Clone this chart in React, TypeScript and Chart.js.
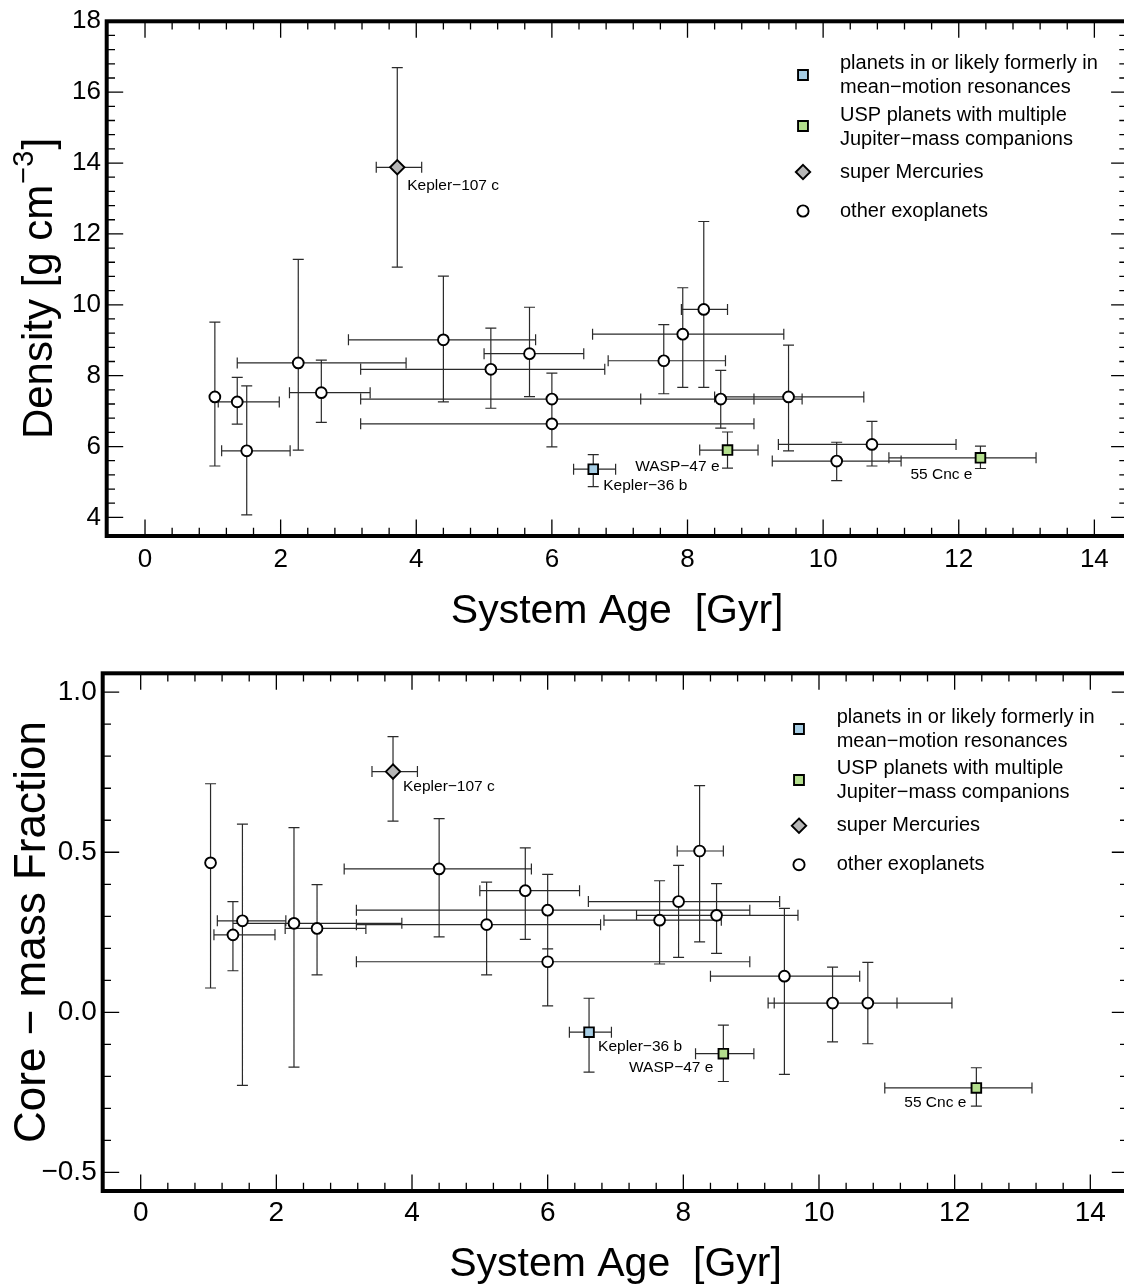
import React, { useEffect, useRef } from 'react';
import { Chart, registerables } from 'chart.js';

Chart.register(...registerables);

const FONT = '"Liberation Sans", Arial, Helvetica, sans-serif';

// ---------------- data ----------------
// "other exoplanets": system age [Gyr] with lower / upper bounds
const otherAge = [1.03, 1.36, 1.5, 2.26, 2.6, 4.4, 5.1, 5.67, 6.0, 6.0, 7.65, 7.93, 8.24, 8.49, 9.49, 10.2, 10.72];
const otherAgeLo = [1.03, 1.08, 1.13, 1.36, 2.13, 3.0, 3.18, 5.0, 3.18, 3.18, 6.83, 6.6, 7.91, 7.31, 8.4, 9.25, 9.34];
const otherAgeHi = [1.03, 1.98, 2.14, 3.85, 3.32, 5.76, 6.78, 6.47, 8.98, 8.98, 8.56, 9.42, 8.59, 9.69, 10.6, 11.15, 11.96];
// density [g cm^-3]
const otherDensity = [7.4, 7.26, 5.88, 8.36, 7.52, 9.01, 8.18, 8.62, 7.34, 6.64, 8.42, 9.17, 9.87, 7.34, 7.4, 5.59, 6.06];
const otherDensityLo = [5.45, 6.63, 4.07, 5.9, 6.68, 7.26, 7.08, 7.41, 6.62, 5.99, 7.49, 7.67, 7.67, 6.52, 5.88, 5.04, 5.45];
const otherDensityHi = [9.51, 7.95, 7.71, 11.28, 8.44, 10.81, 9.34, 9.93, 8.07, 7.3, 9.44, 10.48, 12.35, 8.15, 8.86, 6.12, 6.71];
// core-mass fraction
const otherCmf = [0.467, 0.242, 0.286, 0.278, 0.262, 0.448, 0.274, 0.38, 0.319, 0.158, 0.288, 0.346, 0.504, 0.303, 0.113, 0.029, 0.029];
const otherCmfLo = [0.076, 0.13, -0.228, -0.171, 0.117, 0.236, 0.117, 0.228, 0.198, 0.02, 0.151, 0.172, 0.22, 0.184, -0.194, -0.092, -0.098];
const otherCmfHi = [0.714, 0.346, 0.588, 0.577, 0.399, 0.605, 0.407, 0.514, 0.431, 0.198, 0.411, 0.459, 0.708, 0.402, 0.325, 0.141, 0.156];

// super Mercuries
const mercuryNames = ['Kepler−107 c'];
const mercuryAge = [3.72];
const mercuryAgeLo = [3.41];
const mercuryAgeHi = [4.08];
const mercuryDensity = [13.88];
const mercuryDensityLo = [11.06];
const mercuryDensityHi = [16.69];
const mercuryCmf = [0.752];
const mercuryCmfLo = [0.597];
const mercuryCmfHi = [0.861];

// planets in (or formerly in) mean-motion resonances
const resonantNames = ['Kepler−36 b'];
const resonantAge = [6.61];
const resonantAgeLo = [6.32];
const resonantAgeHi = [6.94];
const resonantDensity = [5.36];
const resonantDensityLo = [4.87];
const resonantDensityHi = [5.77];
const resonantCmf = [-0.062];
const resonantCmfLo = [-0.187];
const resonantCmfHi = [0.044];

// USP planets with multiple Jupiter-mass companions
const uspNames = ['WASP−47 e', '55 Cnc e'];
const uspAge = [8.59, 12.32];
const uspAgeLo = [8.18, 10.97];
const uspAgeHi = [9.04, 13.14];
const uspDensity = [5.9, 5.68];
const uspDensityLo = [5.39, 5.38];
const uspDensityHi = [6.41, 6.01];
const uspCmf = [-0.129, -0.236];
const uspCmfLo = [-0.216, -0.293];
const uspCmfHi = [-0.04, -0.173];

// axis ticks
const ageTicks = [0, 2, 4, 6, 8, 10, 12, 14];
const densityTicks = [4, 6, 8, 10, 12, 14, 16, 18];
const cmfTicks = [-0.5, 0.0, 0.5, 1.0];
const ageMinorStep = 0.4;
const densityMinorStep = 0.4;
const cmfMinorStep = 0.1;

const legendLabels = [
  ['planets in or likely formerly in', 'mean−motion resonances'],
  ['USP planets with multiple', 'Jupiter−mass companions'],
  ['super Mercuries'],
  ['other exoplanets'],
];

// ---------------- styles ----------------
const BLUE = '#a6cde4';
const GREEN = '#b3de8c';
const GRAY = '#b6b6b6';

type Group = {
  age: number[]; ageLo: number[]; ageHi: number[];
  val: number[]; lo: number[]; hi: number[];
  style: string; fill: string; radius: number; names?: string[];
};

type LabelPos = { dx: number; dy: number; align: 'left' | 'right' };

type Panel = {
  height: number;
  padTop: number; padRight: number; yAxisWidth: number; xAxisHeight: number;
  xMin: number; xMax: number; yMin: number; yMax: number;
  yTicks: number[]; yMinorStep: number; yFmt: (v: number) => string;
  tickFont: number; xTickPad: number; yTickPad: number;
  groups: Group[];
  labelPos: LabelPos[]; // in order: mercury, resonant, usp...
  legend: { markerX: number; textX: number; rows: { my: number; ty: number[] }[] };
  xTitle: { y: number; size: number };
  yTitle: { x: number; cy: number; size: number; parts: { t: string; sup?: boolean }[]; supSize: number; supRaise: number };
};

function makeGroups(kind: 'density' | 'cmf'): Group[] {
  const d = kind === 'density';
  return [
    { age: otherAge, ageLo: otherAgeLo, ageHi: otherAgeHi,
      val: d ? otherDensity : otherCmf, lo: d ? otherDensityLo : otherCmfLo, hi: d ? otherDensityHi : otherCmfHi,
      style: 'circle', fill: '#ffffff', radius: 5.4 },
    { age: resonantAge, ageLo: resonantAgeLo, ageHi: resonantAgeHi,
      val: d ? resonantDensity : resonantCmf, lo: d ? resonantDensityLo : resonantCmfLo, hi: d ? resonantDensityHi : resonantCmfHi,
      style: 'rect', fill: BLUE, radius: 6.8, names: resonantNames },
    { age: uspAge, ageLo: uspAgeLo, ageHi: uspAgeHi,
      val: d ? uspDensity : uspCmf, lo: d ? uspDensityLo : uspCmfLo, hi: d ? uspDensityHi : uspCmfHi,
      style: 'rect', fill: GREEN, radius: 6.8, names: uspNames },
    { age: mercuryAge, ageLo: mercuryAgeLo, ageHi: mercuryAgeHi,
      val: d ? mercuryDensity : mercuryCmf, lo: d ? mercuryDensityLo : mercuryCmfLo, hi: d ? mercuryDensityHi : mercuryCmfHi,
      style: 'rectRot', fill: GRAY, radius: 7.2, names: mercuryNames },
  ];
}

const topPanel: Panel = {
  height: 645,
  padTop: 18.3, padRight: 1140 - 1127.6, yAxisWidth: 106.7, xAxisHeight: 645 - 536,
  xMin: -0.565, xMax: 14.49, yMin: 3.475, yMax: 18,
  yTicks: densityTicks, yMinorStep: densityMinorStep, yFmt: (v) => String(v),
  tickFont: 26, xTickPad: 8.4, yTickPad: 5.7,
  groups: makeGroups('density'),
  labelPos: [
    { dx: 10, dy: 17, align: 'left' },   // Kepler-36 b
    { dx: -8, dy: 17, align: 'right' },  // WASP-47 e
    { dx: -8, dy: 17, align: 'right' },  // 55 Cnc e
    { dx: 10, dy: 18, align: 'left' },   // Kepler-107 c
  ],
  legend: { markerX: 803, textX: 840, rows: [
    { my: 75, ty: [63, 87] }, { my: 126, ty: [115, 139] }, { my: 172, ty: [172] }, { my: 211, ty: [211] }] },
  xTitle: { y: 623, size: 41 },
  yTitle: { x: 52, cy: 288.5, size: 42, supSize: 29, supRaise: 19,
    parts: [{ t: 'Density [g cm' }, { t: '−3', sup: true }, { t: ']' }] },
};

const OFF = 645;
const bottomPanel: Panel = {
  height: 640,
  padTop: 673.3 - OFF, padRight: 1140 - 1128.3, yAxisWidth: 102.7, xAxisHeight: 640 - (1191 - OFF),
  xMin: -0.56, xMax: 14.56, yMin: -0.558, yMax: 1.059,
  yTicks: cmfTicks, yMinorStep: cmfMinorStep,
  yFmt: (v) => (v < 0 ? '−' : '') + Math.abs(v).toFixed(1),
  tickFont: 28, xTickPad: 5.6, yTickPad: 6,
  groups: makeGroups('cmf'),
  labelPos: [
    { dx: 9, dy: 14.5, align: 'left' },
    { dx: -10, dy: 13.6, align: 'right' },
    { dx: -10, dy: 15, align: 'right' },
    { dx: 10, dy: 15, align: 'left' },
  ],
  legend: { markerX: 799, textX: 836.7, rows: [
    { my: 729 - OFF, ty: [717.3 - OFF, 741 - OFF] }, { my: 780 - OFF, ty: [768.3 - OFF, 792.7 - OFF] },
    { my: 825.7 - OFF, ty: [825.7 - OFF] }, { my: 864.7 - OFF, ty: [864.7 - OFF] }] },
  xTitle: { y: 1276 - OFF, size: 41 },
  yTitle: { x: 44.6, cy: 932 - OFF, size: 44, supSize: 29, supRaise: 19,
    parts: [{ t: 'Core − mass Fraction' }] },
};

function drawMarker(ctx: CanvasRenderingContext2D, style: string, x: number, y: number, r: number, fill: string) {
  ctx.beginPath();
  if (style === 'rect') {
    const s = r * Math.SQRT1_2;
    ctx.rect(x - s, y - s, 2 * s, 2 * s);
  } else if (style === 'rectRot') {
    ctx.moveTo(x, y - r); ctx.lineTo(x + r, y); ctx.lineTo(x, y + r); ctx.lineTo(x - r, y); ctx.closePath();
  } else {
    ctx.arc(x, y, r, 0, Math.PI * 2);
  }
  ctx.fillStyle = fill; ctx.fill();
  ctx.lineWidth = 1.9; ctx.strokeStyle = '#000'; ctx.stroke();
}

function isOn(v: number, arr: number[]) {
  return arr.some((t) => Math.abs(t - v) < 1e-6);
}

function makePlugin(p: Panel) {
  return {
    id: 'decor',
    beforeDatasetsDraw(chart: any) {
      const { ctx } = chart;
      const xs = chart.scales.x, ys = chart.scales.y;
      ctx.save();
      ctx.strokeStyle = '#2a2a2a';
      ctx.lineWidth = 1.2;
      const cap = 5.5;
      ctx.beginPath();
      for (const g of p.groups) {
        for (let i = 0; i < g.age.length; i++) {
          const px = xs.getPixelForValue(g.age[i]);
          const py = ys.getPixelForValue(g.val[i]);
          const y1 = ys.getPixelForValue(g.lo[i]);
          const y2 = ys.getPixelForValue(g.hi[i]);
          ctx.moveTo(px, y1); ctx.lineTo(px, y2);
          ctx.moveTo(px - cap, y1); ctx.lineTo(px + cap, y1);
          ctx.moveTo(px - cap, y2); ctx.lineTo(px + cap, y2);
          if (g.ageHi[i] - g.ageLo[i] > 1e-6) {
            const x1 = xs.getPixelForValue(g.ageLo[i]);
            const x2 = xs.getPixelForValue(g.ageHi[i]);
            ctx.moveTo(x1, py); ctx.lineTo(x2, py);
            ctx.moveTo(x1, py - cap); ctx.lineTo(x1, py + cap);
            ctx.moveTo(x2, py - cap); ctx.lineTo(x2, py + cap);
          }
        }
      }
      ctx.stroke();
      ctx.restore();
    },
    afterDraw(chart: any) {
      const { ctx, chartArea: a } = chart;
      const xs = chart.scales.x, ys = chart.scales.y;
      ctx.save();
      // minor / major ticks on all four sides
      ctx.strokeStyle = '#000';
      ctx.lineWidth = 1.3;
      ctx.beginPath();
      const x0 = ageTicks[0], x1 = ageTicks[ageTicks.length - 1];
      const nx = Math.round((x1 - x0) / ageMinorStep);
      for (let i = 0; i <= nx; i++) {
        const v = x0 + i * ageMinorStep;
        const L = isOn(v, ageTicks) ? 16.5 : 8.3;
        const px = xs.getPixelForValue(v);
        ctx.moveTo(px, a.bottom); ctx.lineTo(px, a.bottom - L);
        ctx.moveTo(px, a.top); ctx.lineTo(px, a.top + L);
      }
      const y0 = p.yTicks[0], y1 = p.yTicks[p.yTicks.length - 1];
      const ny = Math.round((y1 - y0) / p.yMinorStep);
      for (let i = 0; i <= ny; i++) {
        const v = y0 + i * p.yMinorStep;
        const L = isOn(v, p.yTicks) ? 16.5 : 8.3;
        const py = ys.getPixelForValue(v);
        ctx.moveTo(a.left, py); ctx.lineTo(a.left + L, py);
        ctx.moveTo(a.right, py); ctx.lineTo(a.right - L, py);
      }
      ctx.stroke();
      // frame
      ctx.lineWidth = 4;
      ctx.strokeRect(a.left, a.top, a.right - a.left, a.bottom - a.top);

      // planet name labels
      ctx.fillStyle = '#000';
      ctx.font = `15.5px ${FONT}`;
      ctx.textBaseline = 'middle';
      let k = 0;
      for (const g of p.groups) {
        if (!g.names) continue;
        for (let i = 0; i < g.names.length; i++) {
          const lp = p.labelPos[k++];
          const px = xs.getPixelForValue(g.age[i]);
          const py = ys.getPixelForValue(g.val[i]);
          ctx.textAlign = lp.align;
          ctx.fillText(g.names[i], px + lp.dx, py + lp.dy);
        }
      }

      // legend
      const legendGroups = [p.groups[1], p.groups[2], p.groups[3], p.groups[0]];
      ctx.font = `20px ${FONT}`;
      ctx.textAlign = 'left';
      ctx.textBaseline = 'middle';
      legendGroups.forEach((g, idx) => {
        const row = p.legend.rows[idx];
        const r = g.style === 'circle' ? 5.6 : g.style === 'rect' ? 7 : 7.2;
        drawMarker(ctx, g.style, p.legend.markerX, row.my, r, g.fill);
        ctx.fillStyle = '#000';
        legendLabels[idx].forEach((t, j) => ctx.fillText(t, p.legend.textX, row.ty[j]));
      });

      // x title
      ctx.font = `${p.xTitle.size}px ${FONT}`;
      ctx.textAlign = 'center';
      ctx.textBaseline = 'alphabetic';
      ctx.fillText('System Age  [Gyr]', (a.left + a.right) / 2, p.xTitle.y);

      // y title (rotated)
      const yt = p.yTitle;
      const fontN = `${yt.size}px ${FONT}`;
      const fontS = `${yt.supSize}px ${FONT}`;
      let total = 0;
      const widths = yt.parts.map((part) => {
        ctx.font = part.sup ? fontS : fontN;
        const w = ctx.measureText(part.t).width + (part.sup ? 2 : 0);
        total += w;
        return w;
      });
      ctx.translate(yt.x, yt.cy);
      ctx.rotate(-Math.PI / 2);
      ctx.textAlign = 'left';
      let u = -total / 2;
      yt.parts.forEach((part, i) => {
        ctx.font = part.sup ? fontS : fontN;
        ctx.fillText(part.t, u + (part.sup ? 1 : 0), part.sup ? -yt.supRaise : 0);
        u += widths[i];
      });
      ctx.restore();
    },
  };
}

function buildConfig(p: Panel): any {
  const datasets = p.groups.map((g) => ({
    type: 'scatter',
    data: g.age.map((a, i) => ({ x: a, y: g.val[i] })),
    pointStyle: g.style,
    pointRadius: g.radius,
    pointHoverRadius: g.radius,
    pointBackgroundColor: g.fill,
    pointBorderColor: '#000',
    pointBorderWidth: 1.9,
    pointHoverBorderWidth: 1.9,
    showLine: false,
  }));
  return {
    type: 'scatter',
    data: { datasets },
    options: {
      responsive: false,
      maintainAspectRatio: false,
      animation: false,
      events: [],
      layout: { padding: { top: p.padTop, right: p.padRight, left: 0, bottom: 0 } },
      plugins: { legend: { display: false }, tooltip: { enabled: false }, title: { display: false } },
      scales: {
        x: {
          type: 'linear', min: p.xMin, max: p.xMax,
          grid: { display: false, drawTicks: false }, border: { display: false },
          ticks: { color: '#000', font: { size: p.tickFont, family: FONT }, padding: p.xTickPad,
            maxRotation: 0, autoSkip: false, includeBounds: false, callback: (v: number) => String(v) },
          afterBuildTicks: (s: any) => { s.ticks = ageTicks.map((v) => ({ value: v })); },
          afterFit: (s: any) => { s.height = p.xAxisHeight; },
        },
        y: {
          type: 'linear', min: p.yMin, max: p.yMax,
          grid: { display: false, drawTicks: false }, border: { display: false },
          ticks: { color: '#000', font: { size: p.tickFont, family: FONT }, padding: p.yTickPad,
            autoSkip: false, includeBounds: false, callback: (v: number) => p.yFmt(v) },
          afterBuildTicks: (s: any) => { s.ticks = p.yTicks.map((v) => ({ value: v })); },
          afterFit: (s: any) => { s.width = p.yAxisWidth; },
        },
      },
    },
    plugins: [makePlugin(p)],
  };
}

function PanelCanvas({ panel, top }: { panel: Panel; top: number }) {
  const ref = useRef<HTMLCanvasElement>(null);
  useEffect(() => {
    const chart = new Chart(ref.current as HTMLCanvasElement, buildConfig(panel));
    return () => chart.destroy();
  }, [panel]);
  return (
    <canvas
      ref={ref}
      width={1140}
      height={panel.height}
      style={{ position: 'absolute', left: 0, top, width: 1140, height: panel.height, display: 'block' }}
    />
  );
}

export default function App() {
  return (
    <div style={{ position: 'absolute', left: 0, top: 0, width: 1124, height: 1285, overflow: 'hidden', background: '#fff' }}>
      <PanelCanvas panel={topPanel} top={0} />
      <PanelCanvas panel={bottomPanel} top={OFF} />
    </div>
  );
}
